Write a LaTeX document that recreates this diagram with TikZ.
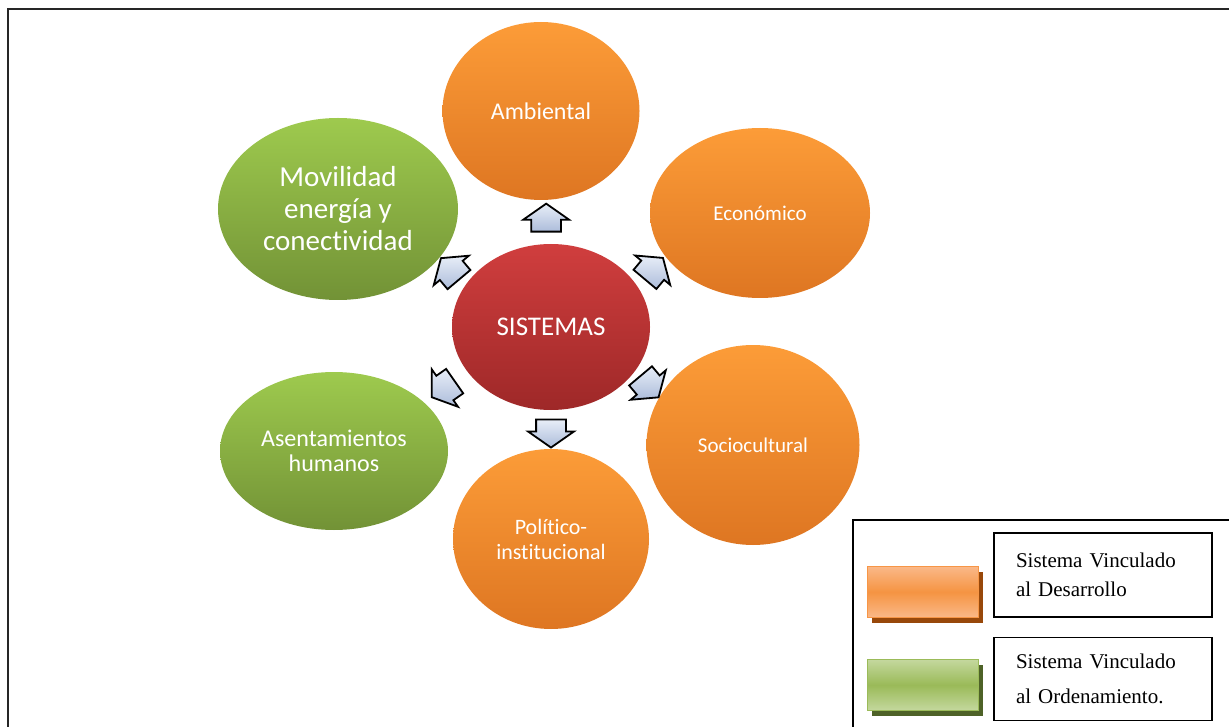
\documentclass[tikz,border=0pt]{standalone}
\usepackage{fontspec}
\setmainfont{Carlito}[Ligatures=NoCommon]
\newfontfamily\legendfont{Liberation Serif}
\usetikzlibrary{shapes.geometric, shapes.arrows, shadows}

\definecolor{orangetop}{RGB}{252,156,56}
\definecolor{orangebot}{RGB}{222,118,34}
\definecolor{greentop}{RGB}{158,202,78}
\definecolor{greenbot}{RGB}{114,146,54}
\definecolor{redtop}{RGB}{208,62,62}
\definecolor{redbot}{RGB}{158,40,40}
\definecolor{arrowlight}{RGB}{232,238,248}
\definecolor{arrowdark}{RGB}{172,188,218}

\begin{document}
\begin{tikzpicture}
    [x=1pt, y=-1pt,
     every node/.style={text=white, align=center},
     sysnode/.style={ellipse, inner sep=0pt},
     desarrollo/.style={sysnode, top color=orangetop, bottom color=orangebot},
     ordenamiento/.style={sysnode, top color=greentop, bottom color=greenbot},
     centro/.style={sysnode, top color=redtop, bottom color=redbot},
     blockarrow/.style={single arrow, draw=black, line width=1.8pt, inner xsep=0pt, inner ysep=14pt,
       minimum height=28pt, single arrow head extend=8pt,
       single arrow tip angle=110, top color=arrowlight, bottom color=arrowdark, pos=.46},
     swatch/.style={minimum width=111pt, minimum height=51pt, inner sep=0pt, line width=1.5pt},
     legendtext/.style={draw=black, line width=1.2pt, text=black, align=left,
       minimum width=218pt, text width=174pt, inner xsep=22pt}]

    \useasboundingbox (0,0) rectangle (1229,727);

    % frames
    \draw[line width=2pt, black!85] (1229,9) -- (8,9) -- (8,727);
    \draw[line width=1.5pt] (853,727) -- (853,520) -- (1229,520);

    % systems
    \node[centro, minimum width=198pt, minimum height=166pt, font=\fontsize{27}{32}\selectfont] (sis) at (551,327) {SISTEMAS};
    \node[desarrollo, minimum width=197pt, minimum height=178pt, font=\fontsize{24}{28}\selectfont] (amb) at (541,111) {Ambiental};
    \node[desarrollo, minimum width=220pt, minimum height=170pt, font=\fontsize{21}{25}\selectfont] (eco) at (760,213) {Económico};
    \node[desarrollo, minimum width=213pt, minimum height=200pt, font=\fontsize{21}{25}\selectfont] (soc) at (753,445) {Sociocultural};
    \node[desarrollo, minimum width=196pt, minimum height=180pt, font=\fontsize{22}{25}\selectfont] (pol) at (551,539) {Político-\\institucional};
    \node[ordenamiento, minimum width=228pt, minimum height=158pt, font=\fontsize{24}{25}\selectfont] (ase) at (334,451) {Asentamientos\\humanos};
    \node[ordenamiento, minimum width=240pt, minimum height=182pt, font=\fontsize{29}{32}\selectfont] (mov) at (338,209) {Movilidad\\energía y\\conectividad};

    % arrows
    \path (sis) -- node[blockarrow, pos=.48, rotate=90] {} (amb);
    \path (sis) -- node[blockarrow, rotate=50] {} (eco);
    \path (sis) -- node[blockarrow, rotate=-50] {} (soc);
    \path (sis) -- node[blockarrow, pos=.47, rotate=-90] {} (pol);
    \path (sis) -- node[blockarrow, rotate=-145] {} (ase);
    \path (sis) -- node[blockarrow, pos=.45, rotate=130] {} (mov);

    % legend
    \node[swatch, draw={rgb,255:red,247;green,150;blue,70},
          top color={rgb,255:red,250;green,184;blue,136}, bottom color={rgb,255:red,250;green,184;blue,136},
          middle color={rgb,255:red,245;green,148;blue,66},
          drop shadow={shadow xshift=4pt, shadow yshift=-5pt, fill={rgb,255:red,152;green,72;blue,10}, opacity=1}]
          (swdes) at (923,592) {};
    \node[swatch, draw={rgb,255:red,155;green,187;blue,89},
          top color={rgb,255:red,196;green,216;blue,158}, bottom color={rgb,255:red,196;green,216;blue,158},
          middle color={rgb,255:red,154;green,186;blue,88},
          drop shadow={shadow xshift=4pt, shadow yshift=-5pt, fill={rgb,255:red,78;green,98;blue,40}, opacity=1}]
          (swor) at (923,685) {};
    \node[legendtext, minimum height=84pt, font=\legendfont\fontsize{21}{29}\selectfont] (txtdes) at (1103,575) {Sistema Vinculado\\al Desarrollo};
    \node[legendtext, minimum height=83pt, font=\legendfont\fontsize{21}{35}\selectfont] (txtor) at (1103,679) {Sistema Vinculado\\al Ordenamiento.};
\end{tikzpicture}
\end{document}
